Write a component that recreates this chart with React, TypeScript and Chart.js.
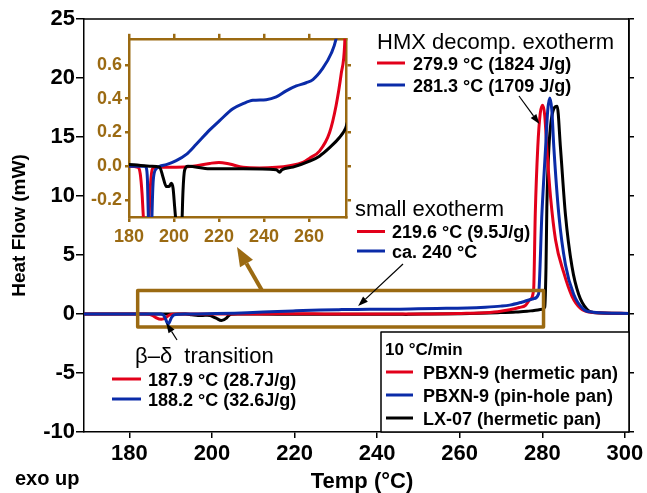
import React, { useEffect, useRef } from "react";
import { Chart, registerables } from "chart.js";

Chart.register(...registerables);

const FONT = "'Liberation Sans', Arial, Helvetica, sans-serif";
const RED = "#e2001a";
const BLUE = "#0a2ba8";
const BLACK = "#000000";
const BROWN = "#9b6a12";

// ---- data (Temp °C, Heat flow mW) ----
const redT = [169, 180, 184, 185, 185.8, 186.4, 187.7, 188.9, 189.5, 190.4, 192, 201, 208.4, 215.9, 220, 224.7, 230.7, 238, 245.5, 251.4, 257.3, 260.3, 264.7, 269.2, 272.1, 274.4, 275.9, 277, 277.9, 278.3, 278.9, 279.5, 280.1, 280.6, 281.2, 282.0, 283.2, 285.2, 287.2, 289.2, 291.7, 301];
const redV = [0, 0, -0.006, -0.044, -0.16, -0.3, -0.45, -0.3, -0.12, -0.015, -0.006, -0.006, 0, 0.017, 0.023, 0.013, -0.006, -0.01, -0.006, 0.004, 0.023, 0.048, 0.09, 0.2, 0.36, 0.55, 0.72, 1.2, 2.06, 8.5, 14.1, 17.0, 17.7, 16.8, 13.5, 9.9, 6.3, 3.5, 1.5, 0.5, 0.15, 0.05];

const blueT = [169, 180, 187, 187.6, 188.2, 188.6, 189.4, 190.2, 190.8, 192.1, 193.6, 196.6, 201, 205.5, 209.9, 215.9, 220.3, 226.2, 230.7, 235.1, 241, 245.5, 249.9, 254.4, 258.8, 261.8, 266.2, 269.9, 272.1, 275, 277.9, 279.1, 279.9, 280.8, 281.3, 281.8, 282.3, 282.8, 284.0, 285.6, 287.6, 290.0, 292.4, 301];
const blueV = [0, 0, 0, -0.006, -0.08, -0.3, -0.85, -0.3, -0.08, -0.015, 0, 0.01, 0.033, 0.07, 0.13, 0.215, 0.27, 0.34, 0.37, 0.39, 0.394, 0.41, 0.446, 0.475, 0.494, 0.513, 0.58, 0.667, 0.754, 1.0, 1.3, 1.7, 8.45, 14.1, 17.2, 18.3, 17.3, 14.1, 8.45, 4.2, 1.67, 0.4, 0.15, 0.05];

const blackT = [169, 180, 190, 193.6, 195.1, 196.6, 197.8, 198.8, 199.6, 200.3, 201, 202.3, 203.5, 204, 204.7, 206.2, 215.9, 230.7, 245.5, 247, 248, 252.9, 260.3, 264.7, 269.2, 273.6, 276.3, 278, 280, 280.6, 280.9, 281.1, 281.6, 282.8, 283.6, 284.4, 285.6, 287.2, 288.8, 290.8, 293, 301];
const blackV = [0.01, 0.01, 0, -0.005, -0.063, -0.12, -0.12, -0.1, -0.13, -0.24, -0.35, -0.55, -0.35, -0.15, -0.025, 0, -0.015, -0.015, -0.02, -0.035, -0.02, -0.005, 0.03, 0.06, 0.11, 0.17, 0.225, 0.3, 0.4, 0.6, 4, 9, 14.1, 17.4, 17.6, 14.1, 8.45, 4.0, 1.67, 0.4, 0.1, 0.05];

const seriesNames = ["PBXN-9 (hermetic pan)", "PBXN-9 (pin-hole pan)", "LX-07 (hermetic pan)"];

const mainXTicks = [180, 200, 220, 240, 260, 280, 300];
const mainYTicks = [-10, -5, 0, 5, 10, 15, 20, 25];
const insetXTicks = [180, 200, 220, 240, 260];
const insetYTicks = [-0.2, 0, 0.2, 0.4, 0.6];
const insetYLabels = ["-0.2", "0.0", "0.2", "0.4", "0.6"];

const xTitle = "Temp (°C)";
const yTitle = "Heat Flow (mW)";

// zoomed region shown in inset (data units)
const regionT = [182, 280.3];
const regionV = [-1.1, 2.0];

const legendTitle = "10 °C/min";
const hmxTitle = "HMX decomp. exotherm";
const hmxEntries = ["279.9 °C (1824 J/g)", "281.3 °C (1709 J/g)"];
const smallTitle = "small exotherm";
const smallEntries = ["219.6 °C (9.5J/g)", "ca. 240 °C"];
const betaTitle = "β–δ  transition";
const betaEntries = ["187.9 °C (28.7J/g)", "188.2 °C (32.6J/g)"];

// arrow tips in data units
const hmxTip = [279.3, 16.1];
const smallTip = [235.4, 0.68];
const betaTip = [188.9, -0.76];

const pts = (t: number[], v: number[]) => t.map((x, i) => ({ x, y: v[i] }));

function drawArrow(ctx: CanvasRenderingContext2D, x1: number, y1: number, x2: number, y2: number, color: string, lw: number, hl: number, hw: number) {
  const ang = Math.atan2(y2 - y1, x2 - x1);
  const bx = x2 - hl * Math.cos(ang);
  const by = y2 - hl * Math.sin(ang);
  ctx.strokeStyle = color;
  ctx.lineWidth = lw;
  ctx.beginPath();
  ctx.moveTo(x1, y1);
  ctx.lineTo(bx, by);
  ctx.stroke();
  ctx.fillStyle = color;
  ctx.beginPath();
  ctx.moveTo(x2, y2);
  ctx.lineTo(bx + (hw / 2) * Math.sin(ang), by - (hw / 2) * Math.cos(ang));
  ctx.lineTo(bx - (hw / 2) * Math.sin(ang), by + (hw / 2) * Math.cos(ang));
  ctx.closePath();
  ctx.fill();
}

function txt(ctx: CanvasRenderingContext2D, s: string, x: number, y: number, size: number, weight: string, color = "#000", align: CanvasTextAlign = "left") {
  ctx.font = `${weight} ${size}px ${FONT}`;
  ctx.fillStyle = color;
  ctx.textAlign = align;
  ctx.textBaseline = "alphabetic";
  ctx.fillText(s, x, y);
}

function sample(ctx: CanvasRenderingContext2D, x1: number, x2: number, y: number, color: string) {
  ctx.strokeStyle = color;
  ctx.lineWidth = 3;
  ctx.beginPath();
  ctx.moveTo(x1, y);
  ctx.lineTo(x2, y);
  ctx.stroke();
}

const mainAnnot = {
  id: "mainAnnot",
  afterDraw(chart: any) {
    const { ctx, chartArea: a, scales } = chart;
    const xs = scales.x;
    const ys = scales.y;
    ctx.save();
    // top & right frame
    ctx.strokeStyle = "#000";
    ctx.lineWidth = 1.5;
    ctx.beginPath();
    ctx.moveTo(a.left, a.top);
    ctx.lineTo(a.right, a.top);
    ctx.lineTo(a.right, a.bottom);
    ctx.stroke();

    // brown region box
    const bx1 = xs.getPixelForValue(regionT[0]);
    const bx2 = xs.getPixelForValue(regionT[1]);
    const by1 = ys.getPixelForValue(regionV[1]);
    const by2 = ys.getPixelForValue(regionV[0]);
    ctx.strokeStyle = BROWN;
    ctx.lineWidth = 3.5;
    ctx.lineJoin = "round";
    ctx.strokeRect(bx1, by1, bx2 - bx1, by2 - by1);
    drawArrow(ctx, 262, by1, 237, 247, BROWN, 4, 19, 15);

    // black arrows
    drawArrow(ctx, 519, 96, xs.getPixelForValue(hmxTip[0]), ys.getPixelForValue(hmxTip[1]), BLACK, 1.2, 10, 7);
    drawArrow(ctx, 403, 264, xs.getPixelForValue(smallTip[0]), ys.getPixelForValue(smallTip[1]), BLACK, 1.2, 10, 7);
    drawArrow(ctx, 177, 340, xs.getPixelForValue(betaTip[0]), ys.getPixelForValue(betaTip[1]), BLACK, 1.2, 10, 7);

    // HMX annotation
    txt(ctx, hmxTitle, 377, 49, 22, "normal");
    sample(ctx, 377, 405, 63, RED);
    txt(ctx, hmxEntries[0], 413, 69.5, 18, "bold");
    sample(ctx, 377, 405, 85, BLUE);
    txt(ctx, hmxEntries[1], 413, 91.5, 18, "bold");

    // small exotherm annotation
    txt(ctx, smallTitle, 355, 216, 22, "normal");
    sample(ctx, 357, 385, 231.5, RED);
    txt(ctx, smallEntries[0], 392, 238, 18, "bold");
    sample(ctx, 357, 385, 251, BLUE);
    txt(ctx, smallEntries[1], 392, 257.5, 18, "bold");

    // beta-delta annotation
    txt(ctx, betaTitle, 135, 363, 22, "normal");
    sample(ctx, 112, 141, 379, RED);
    txt(ctx, betaEntries[0], 148, 385.5, 18, "bold");
    sample(ctx, 112, 141, 399, BLUE);
    txt(ctx, betaEntries[1], 148, 405.5, 18, "bold");

    // legend box
    ctx.fillStyle = "#fff";
    ctx.fillRect(381, 332, a.right - 381, a.bottom - 332);
    ctx.strokeStyle = "#000";
    ctx.lineWidth = 1.5;
    ctx.strokeRect(381, 332, a.right - 381, a.bottom - 332);
    txt(ctx, legendTitle, 385, 355, 17, "bold");
    const cols = [RED, BLUE, BLACK];
    const ly = [372, 395, 418];
    seriesNames.forEach((n, i) => {
      sample(ctx, 386, 413, ly[i], cols[i]);
      txt(ctx, n, 423, ly[i] + 6.5, 18, "bold");
    });

    // axis titles
    txt(ctx, xTitle, 362, 488, 22, "bold", "#000", "center");
    ctx.save();
    ctx.translate(25, (a.top + a.bottom) / 2);
    ctx.rotate(-Math.PI / 2);
    txt(ctx, yTitle, 0, 0, 19, "bold", "#000", "center");
    ctx.restore();

    // exo up
    txt(ctx, "exo up", 15, 485, 20, "bold");
    ctx.restore();
  },
};

const insetBg = {
  id: "insetBg",
  beforeDraw(chart: any) {
    const { ctx, chartArea: a } = chart;
    ctx.save();
    ctx.fillStyle = "#fff";
    ctx.fillRect(a.left, a.top, a.right - a.left, a.bottom - a.top);
    ctx.restore();
  },
};

const mk = (label: string, t: number[], v: number[], color: string, order: number) => ({
  label,
  data: pts(t, v),
  borderColor: color,
  backgroundColor: color,
  borderWidth: 3,
  pointRadius: 0,
  cubicInterpolationMode: "monotone" as const,
  fill: false,
  order,
});

export default function App() {
  const mainRef = useRef<HTMLCanvasElement>(null);
  const insetRef = useRef<HTMLCanvasElement>(null);

  useEffect(() => {
    Chart.defaults.font.family = FONT;
    const tickFont = { family: FONT, size: 22, weight: "bold" as const };

    const main = new Chart(mainRef.current!, {
      type: "line",
      data: {
        datasets: [
          mk(seriesNames[0], redT, redV, RED, 1),
          mk(seriesNames[1], blueT, blueV, BLUE, 0),
          mk(seriesNames[2], blackT, blackV, BLACK, 2),
        ],
      },
      options: {
        animation: false,
        responsive: false,
        maintainAspectRatio: false,
        devicePixelRatio: 1,
        layout: { padding: { top: 19, left: 0, right: 0, bottom: 0 } },
        plugins: { legend: { display: false }, tooltip: { enabled: false } },
        scales: {
          x: {
            type: "linear",
            position: "bottom",
            min: 169,
            max: 301,
            afterBuildTicks: (s: any) => {
              s.ticks = mainXTicks.map((v) => ({ value: v }));
            },
            afterFit: (s: any) => {
              s.height = 61;
            },
            grid: { drawOnChartArea: false, drawTicks: true, tickLength: 6, color: "#000", lineWidth: 1.5 },
            border: { display: true, color: "#000", width: 1.5 },
            ticks: { color: "#000", font: tickFont, padding: 3, maxRotation: 0, autoSkip: false, callback: (v: any) => String(v) },
          },
          y: {
            type: "linear",
            position: "left",
            min: -10,
            max: 25,
            afterBuildTicks: (s: any) => {
              s.ticks = mainYTicks.map((v) => ({ value: v }));
            },
            afterFit: (s: any) => {
              s.width = 84;
            },
            grid: { drawOnChartArea: false, drawTicks: true, tickLength: 8, color: "#000", lineWidth: 1.5 },
            border: { display: true, color: "#000", width: 1.5 },
            ticks: { color: "#000", font: tickFont, padding: 1, autoSkip: false, callback: (v: any) => String(v) },
          },
          y2: {
            type: "linear",
            position: "right",
            min: -10,
            max: 25,
            afterBuildTicks: (s: any) => {
              s.ticks = mainYTicks.map((v) => ({ value: v }));
            },
            afterFit: (s: any) => {
              s.width = 18;
            },
            grid: { drawOnChartArea: false, drawTicks: true, tickLength: 5, color: "#000", lineWidth: 1.5 },
            border: { display: true, color: "#000", width: 1.5 },
            ticks: { display: false },
          },
        },
      },
      plugins: [mainAnnot],
    } as any);

    const insetTickFont = { family: FONT, size: 18, weight: "bold" as const };
    const brownGrid = { drawOnChartArea: false, drawTicks: true, color: BROWN, lineWidth: 2.5 };
    const brownBorder = { display: true, color: BROWN, width: 2.5 };

    const inset = new Chart(insetRef.current!, {
      type: "line",
      data: {
        datasets: [
          mk(seriesNames[0], redT, redV, RED, 2),
          mk(seriesNames[1], blueT, blueV, BLUE, 1),
          mk(seriesNames[2], blackT, blackV, BLACK, 0),
        ],
      },
      options: {
        animation: false,
        responsive: false,
        maintainAspectRatio: false,
        devicePixelRatio: 1,
        layout: { padding: 0 },
        plugins: { legend: { display: false }, tooltip: { enabled: false } },
        scales: {
          x: {
            type: "linear",
            position: "bottom",
            min: 180,
            max: 276.5,
            afterBuildTicks: (s: any) => {
              s.ticks = insetXTicks.map((v) => ({ value: v }));
            },
            afterFit: (s: any) => {
              s.height = 43;
            },
            grid: { ...brownGrid, tickLength: 5 },
            border: brownBorder,
            ticks: { color: BROWN, font: insetTickFont, padding: 4, maxRotation: 0, autoSkip: false, callback: (v: any) => String(v) },
          },
          x2: {
            type: "linear",
            position: "top",
            min: 180,
            max: 276.5,
            afterBuildTicks: (s: any) => {
              s.ticks = insetXTicks.map((v) => ({ value: v }));
            },
            afterFit: (s: any) => {
              s.height = 10;
            },
            grid: { ...brownGrid, tickLength: 5 },
            border: brownBorder,
            ticks: { display: false },
          },
          y: {
            type: "linear",
            position: "left",
            min: -0.3,
            max: 0.754,
            afterBuildTicks: (s: any) => {
              s.ticks = insetYTicks.map((v) => ({ value: v }));
            },
            afterFit: (s: any) => {
              s.width = 49;
            },
            grid: { ...brownGrid, tickLength: 4 },
            border: brownBorder,
            ticks: {
              color: BROWN,
              font: insetTickFont,
              padding: 3,
              autoSkip: false,
              callback: (v: any) => {
                const i = insetYTicks.indexOf(v);
                return i >= 0 ? insetYLabels[i] : "";
              },
            },
          },
          y2: {
            type: "linear",
            position: "right",
            min: -0.3,
            max: 0.754,
            afterBuildTicks: (s: any) => {
              s.ticks = insetYTicks.map((v) => ({ value: v }));
            },
            afterFit: (s: any) => {
              s.width = 9;
            },
            grid: { ...brownGrid, tickLength: 5 },
            border: brownBorder,
            ticks: { display: false },
          },
        },
      },
      plugins: [insetBg],
    } as any);

    return () => {
      main.destroy();
      inset.destroy();
    };
  }, []);

  return (
    <div style={{ position: "fixed", left: 0, top: 0, width: 647, height: 493, background: "#fff" }}>
      <canvas ref={mainRef} width={647} height={493} style={{ position: "absolute", left: 0, top: 0, width: 647, height: 493 }} />
      <canvas ref={insetRef} width={275} height={235} style={{ position: "absolute", left: 80, top: 25, width: 275, height: 235 }} />
    </div>
  );
}
